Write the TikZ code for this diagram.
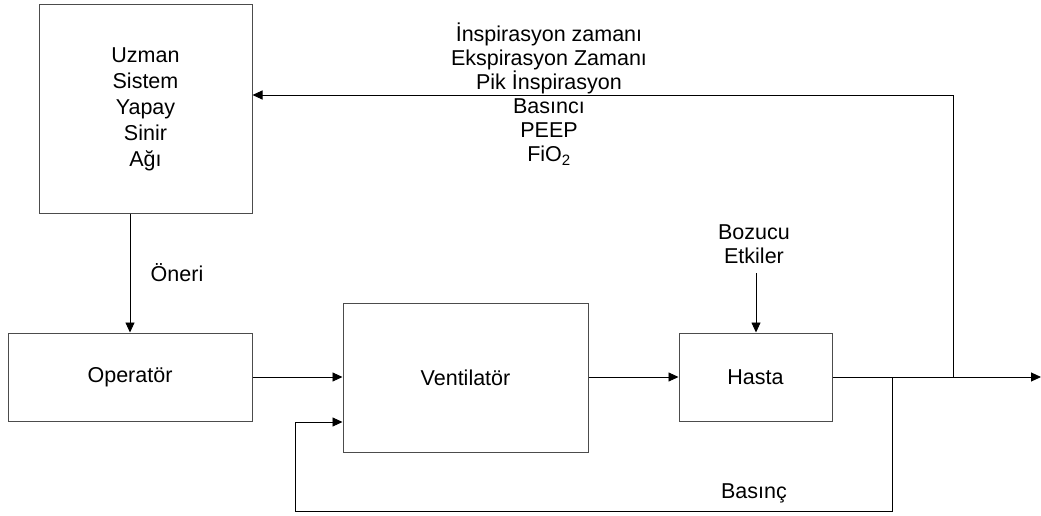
\documentclass[tikz,border=0pt]{standalone}
\usepackage{fontspec}
\setmainfont{Liberation Sans}
\usepackage{xcolor}
\usepackage{tikz}
\usetikzlibrary{calc,arrows.meta,positioning}

\tikzset{
  blok/.style={draw=black!70,line width=1pt,inner sep=0pt,align=center},
  etiket/.style={inner sep=0pt,align=center},
  ok/.style={-{Triangle[length=10pt,width=9pt]},line width=0.9pt},
  hat/.style={line width=0.9pt}
}

\begin{document}
\begin{tikzpicture}[x=1pt,y=-1pt,font=\fontsize{21.5}{24}\selectfont]
  \useasboundingbox (0,0) rectangle (1041,516);

  % Bloklar
  \node[blok,minimum width=213pt,minimum height=208pt,
        font=\fontsize{21.5}{26}\selectfont] (uzman) at (145.5,109)
    {Uzman\\Sistem\\Yapay\\Sinir\\Ağı};
  \node[blok,minimum width=244pt,minimum height=88pt] (operator) at (130,377) {Operatör};
  \node[blok,minimum width=245pt,minimum height=149pt] (vent) at (465.5,377.5) {Ventilatör};
  \node[blok,minimum width=153pt,minimum height=88pt] (hasta) at (755.5,377) {Hasta};

  % Etiketler
  \node[etiket] (param) at (549,94)
    {İnspirasyon zamanı\\Ekspirasyon Zamanı\\Pik İnspirasyon\\Basıncı\\PEEP\\FiO\textsubscript{2}};
  \node[etiket] (oneri) at (177,273) {Öneri};
  \node[etiket] (bozucu) at (754,244) {Bozucu\\Etkiler};
  \node[etiket] (basinc) at (754,493) {Basınç};

  % Yardimci noktalar
  \coordinate (bz) at (756,273);
  \coordinate (tap1) at (892,377);
  \coordinate (tap2) at (953,377);
  \coordinate (fb) at (953,95);
  \coordinate (cikis) at (1041,377);
  \coordinate (altR) at (892,511);
  \coordinate (altL) at (295,511);
  \coordinate (donus) at (295,422);

  % Baglantilar
  \draw[ok] (operator.north |- uzman.south) -- (operator.north);
  \draw[ok] (operator.east) -- (operator.east -| vent.west);
  \draw[ok] (vent.east |- hasta.west) -- (hasta.west);
  \draw[ok] (bz) -- (hasta.north -| bz);
  \draw[ok] (hasta.east) -- (cikis);
  \draw[ok] (tap2) -- (fb) -- (fb -| uzman.east);
  \draw[ok] (tap1) -- (altR) -- (altL) -- (donus) -- (donus -| vent.west);
\end{tikzpicture}
\end{document}
